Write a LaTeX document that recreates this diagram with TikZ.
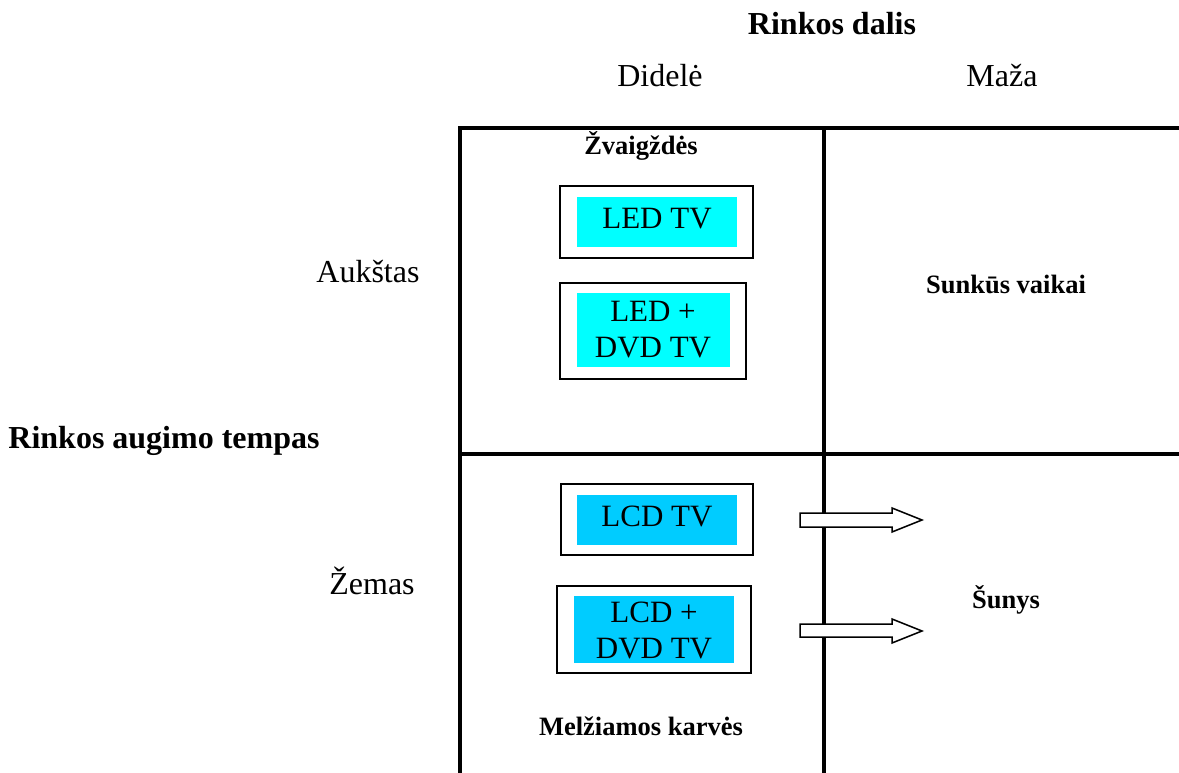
\documentclass[tikz,border=0pt]{standalone}
\usepackage{fontspec}
\setmainfont{Liberation Serif}
\definecolor{ledcyan}{HTML}{00FFFF}
\definecolor{lcdblue}{HTML}{00CCFF}
\tikzset{
  gridline/.style={line width=4pt, line join=miter, line cap=rect},
  outerbox/.style={draw=black, line width=2pt, fill=white},
  innerbox/.style={inner sep=0pt, align=center, font=\fontsize{31}{36}\selectfont},
  bigbold/.style={anchor=base, font=\fontsize{32}{36}\selectfont\bfseries},
  plain/.style={anchor=base, font=\fontsize{32}{36}\selectfont},
  smallbold/.style={anchor=base, font=\fontsize{26.5}{30}\selectfont\bfseries},
  blockarrow/.style={draw=black, line width=1.5pt, fill=white, line join=miter},
}
\begin{document}
\begin{tikzpicture}[x=1pt,y=-1pt]
\useasboundingbox (0,0) rectangle (1179,773);
% grid
\draw[gridline] (460,775) -- (460,128.5) -- (1181,128.5);
\draw[gridline] (824,128.5) -- (824,775);
\draw[gridline] (460,454) -- (1181,454);
% headings
\node[bigbold] (share) at (832,35) {Rinkos dalis};
\node[plain] (big) at (660,87) {Didelė};
\node[plain] (small) at (1002,87) {Maža};
\node[bigbold] (growth) at (164,448) {Rinkos augimo tempas};
\node[plain] (high) at (368,282) {Aukštas};
\node[plain] (low) at (372,594) {Žemas};
% quadrant labels
\node[smallbold] (stars) at (641,155) {Žvaigždės};
\node[smallbold] (qm) at (1006,293) {Sunkūs vaikai};
\node[smallbold] (dogs) at (1006,608) {Šunys};
\node[smallbold] (cows) at (641,735) {Melžiamos karvės};
% product boxes
\draw[outerbox] (560,186) rectangle (753,258);
\fill[ledcyan] (577,197) rectangle (737,247);
\node[innerbox] (led) at (657,219) {LED TV};
\draw[outerbox] (560,283) rectangle (746,379);
\fill[ledcyan] (577,293) rectangle (730,367);
\node[innerbox] (leddvd) at (653,330) {LED +\\DVD TV};
\draw[outerbox] (561,484) rectangle (753,555);
\fill[lcdblue] (577,495) rectangle (737,545);
\node[innerbox] (lcd) at (657,516) {LCD TV};
\draw[outerbox] (557,586) rectangle (751,673);
\fill[lcdblue] (574,596) rectangle (734,663);
\node[innerbox] (lcddvd) at (654,630) {LCD +\\DVD TV};
% block arrows
\draw[blockarrow] (800,513) -- (892,513) -- (892,508) -- (922,520) -- (892,532) -- (892,527) -- (800,527) -- cycle;
\draw[blockarrow] (800,624) -- (892,624) -- (892,619) -- (922,631) -- (892,643) -- (892,637) -- (800,637) -- cycle;
\end{tikzpicture}
\end{document}
